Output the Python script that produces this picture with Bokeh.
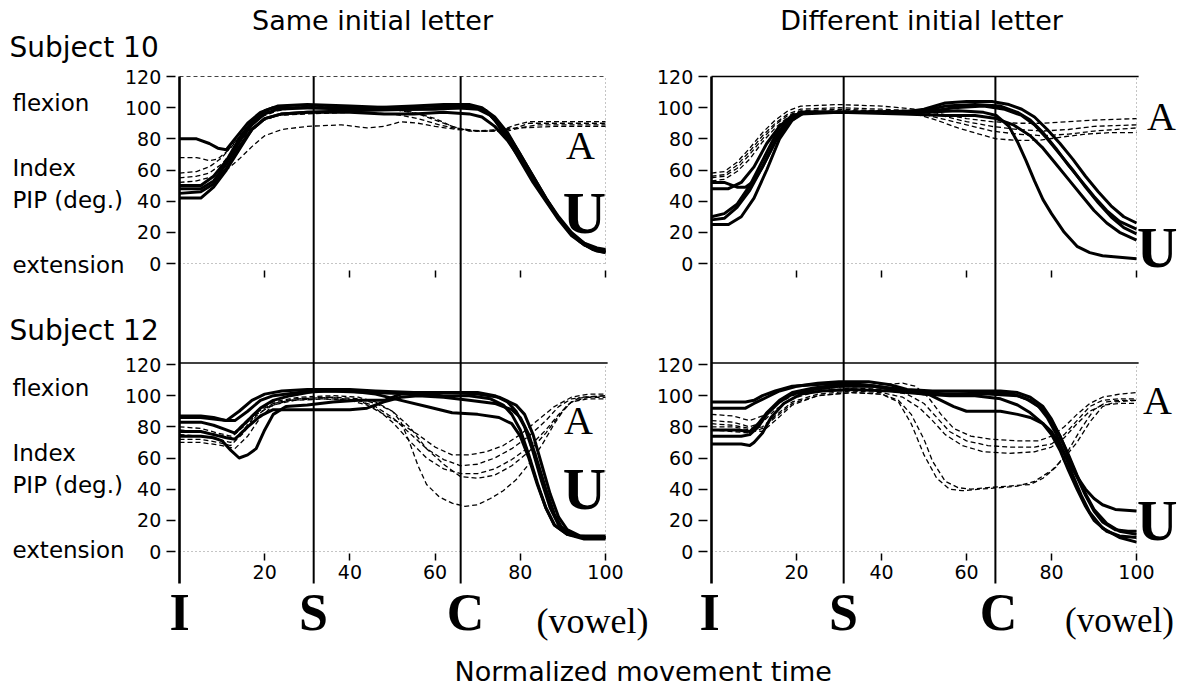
from bokeh.plotting import figure
from bokeh.models import Range1d, LinearAxis, FixedTicker, Label
from bokeh.embed import file_html
from bokeh.resources import INLINE

# ---------------- data ----------------
y_ticks = [0, 20, 40, 60, 80, 100, 120]
x_ticks = [20, 40, 60, 80, 100]
event_names = ["I", "S", "C"]
same_events = [0, 31.5, 66.0]
diff_events = [0, 31.1, 66.8]

# Subject 10, same initial letter
s10_same_U = [
    [(0,80),(4,80),(7,77),(9,74),(11,73),(13,80),(16,90),(19,97),(22,100),(30,100),(40,99),(50,99),(60,99),(66,100),(70,100),(72,98),(74,92),(77,80),(80,66),(83,52),(86,40),(89,28),(92,18),(95,12),(98,9),(100,8)],
    [(0,50),(5,50),(8,56),(11,66),(14,80),(17,91),(20,98),(23,101),(30,102),(40,101),(50,100),(60,101),(68,101),(71,99),(74,93),(77,83),(80,70),(83,56),(86,42),(89,30),(92,20),(95,13),(98,10),(100,9)],
    [(0,45),(5,46),(8,51),(11,61),(14,75),(17,86),(20,93),(24,96),(30,97),(40,97),(48,96),(55,96),(62,97),(68,96),(71,94),(74,88),(77,79),(80,67),(83,54),(86,41),(89,29),(92,19),(95,13),(98,9),(100,8)],
    [(0,42),(5,42),(8,49),(11,60),(14,73),(17,86),(20,93),(24,96),(30,97),(40,98),(55,99),(65,100),(70,99),(73,95),(76,86),(79,74),(82,60),(85,46),(88,33),(91,22),(94,14),(97,9),(100,7)],
    [(0,48),(5,48),(8,53),(11,64),(14,78),(17,89),(20,96),(23,99),(30,100),(45,100),(55,101),(62,102),(68,102),(71,100),(74,94),(77,84),(80,70),(83,56),(86,42),(89,29),(92,19),(95,12),(98,8),(100,7)],
]
s10_same_A = [
    [(0,68),(4,68),(7,66),(9,67),(12,74),(15,85),(18,93),(21,98),(25,100),(32,101),(40,100),(50,99),(55,97),(60,93),(64,88),(68,85),(72,85),(76,86),(79,89),(82,91),(90,91),(100,91)],
    [(0,58),(4,59),(7,62),(10,68),(13,78),(16,88),(19,94),(23,98),(30,101),(40,101),(50,99),(56,96),(61,91),(65,87),(70,85),(75,85),(79,87),(82,90),(90,90),(100,90)],
    [(0,55),(4,56),(7,58),(10,64),(13,74),(16,84),(19,91),(23,95),(30,96),(40,97),(50,96),(56,93),(61,89),(66,86),(72,85),(77,85),(80,87),(84,89),(92,89),(100,89)],
    [(0,52),(4,53),(8,56),(11,60),(14,67),(17,75),(20,82),(24,86),(30,88),(38,89),(44,87),(48,88),(52,91),(56,90),(60,88),(65,86),(70,85),(75,86),(80,87),(88,88),(100,88)],
]

# Subject 10, different initial letter
s10_diff_U = [
    [(0,52),(3,52),(6,49),(8,49),(10,53),(12,62),(14,73),(16,84),(18,92),(21,97),(30,97),(40,97),(50,97),(58,98),(64,97),(67,95),(70,88),(72,78),(74,66),(76,53),(78,41),(80,32),(83,20),(86,11),(89,7),(92,5),(96,4),(100,3)],
    [(0,48),(4,48),(7,52),(10,62),(13,77),(16,88),(19,95),(22,97),(35,97),(45,97),(50,99),(55,103),(60,104),(66,104),(70,102),(73,99),(76,94),(79,86),(82,77),(85,67),(88,56),(91,46),(94,37),(97,30),(100,26)],
    [(0,30),(3,32),(6,38),(9,50),(12,66),(15,82),(18,92),(21,97),(35,97),(50,98),(55,101),(62,102),(68,101),(72,97),(75,92),(78,84),(81,74),(84,63),(87,53),(90,43),(93,34),(96,27),(100,22)],
    [(0,28),(3,29),(6,36),(9,47),(12,62),(15,78),(18,90),(21,96),(30,97),(45,96),(55,95),(62,95),(67,93),(71,89),(75,82),(78,74),(81,64),(84,54),(87,44),(90,34),(93,26),(96,20),(100,15)],
    [(0,25),(4,25),(7,30),(10,42),(13,60),(16,80),(19,92),(22,97),(35,97),(50,97),(57,100),(64,101),(69,99),(73,95),(76,89),(79,80),(82,70),(85,60),(88,49),(91,39),(94,30),(97,23),(100,19)],
]
s10_diff_A = [
    [(0,58),(3,59),(6,65),(9,74),(12,84),(15,92),(18,98),(21,101),(30,102),(40,101),(48,99),(54,96),(60,93),(66,91),(72,90),(78,90),(84,91),(90,92),(100,93)],
    [(0,56),(3,57),(6,63),(9,72),(12,82),(15,90),(18,96),(21,99),(30,100),(40,99),(48,98),(54,95),(60,91),(66,88),(72,86),(78,85),(84,86),(90,88),(100,89)],
    [(0,55),(3,56),(6,61),(9,70),(12,80),(15,89),(18,95),(21,98),(30,99),(40,98),(48,97),(54,93),(60,89),(66,85),(72,83),(78,82),(84,83),(90,85),(100,87)],
    [(0,53),(3,54),(6,59),(9,67),(12,78),(15,87),(18,94),(21,97),(30,98),(40,98),(48,96),(53,92),(58,87),(63,83),(67,80),(72,79),(77,79),(82,81),(88,83),(94,84),(100,84)],
]

# Subject 12, same initial letter
s12_same_U = [
    [(0,87),(5,87),(8,86),(11,84),(14,90),(17,97),(20,101),(24,103),(30,104),(40,104),(46,103),(55,102),(62,102),(70,102),(74,100),(77,96),(79,90),(81,80),(83,64),(85,45),(87,28),(89,17),(92,11),(95,9),(100,9)],
    [(0,86),(5,86),(8,85),(11,84),(13,84),(16,90),(19,97),(22,100),(28,102),(35,103),(45,102),(55,101),(62,100),(68,100),(73,98),(76,94),(78,88),(80,78),(82,62),(84,44),(86,28),(88,17),(91,11),(95,8),(100,8)],
    [(0,83),(5,83),(8,81),(11,78),(13,76),(16,84),(19,92),(22,97),(26,100),(32,103),(40,103),(46,101),(52,97),(58,93),(64,89),(70,88),(75,86),(78,82),(80,74),(82,60),(84,43),(86,28),(88,17),(91,11),(95,9),(100,9)],
    [(0,77),(5,77),(8,75),(11,73),(13,72),(16,80),(19,87),(22,91),(30,91),(40,91),(44,92),(48,96),(52,99),(56,100),(62,99),(68,97),(74,95),(78,91),(80,86),(82,75),(84,58),(86,40),(88,24),(90,14),(93,10),(100,9)],
    [(0,74),(5,74),(8,73),(10,71),(12,65),(14,60),(16,62),(18,66),(20,78),(22,88),(25,93),(30,94),(36,96),(42,97),(48,97),(52,101),(58,102),(64,102),(70,101),(75,99),(79,94),(81,88),(83,75),(85,56),(87,37),(89,22),(91,14),(94,10),(100,10)],
]
s12_same_A = [
    [(0,70),(5,70),(10,68),(13,66),(16,74),(19,86),(22,94),(26,97),(33,98),(40,97),(44,94),(48,88),(52,82),(56,75),(60,67),(64,62),(68,62),(72,64),(76,68),(80,75),(84,84),(88,93),(92,99),(96,101),(100,101)],
    [(0,78),(5,77),(9,75),(12,73),(15,80),(18,89),(22,95),(27,98),(35,99),(42,97),(46,93),(50,86),(54,76),(58,66),(62,59),(66,55),(70,56),(74,60),(78,66),(82,74),(86,84),(89,93),(92,98),(96,99),(100,99)],
    [(0,75),(5,74),(9,72),(12,70),(15,78),(18,88),(22,94),(27,97),(35,98),(42,97),(46,92),(50,83),(54,71),(58,60),(62,53),(66,50),(70,50),(74,53),(78,59),(82,67),(86,78),(89,88),(92,96),(96,98),(100,98)],
    [(0,72),(5,72),(9,70),(12,68),(15,76),(18,87),(22,95),(28,98),(36,99),(42,98),(46,95),(50,90),(52,83),(54,70),(56,55),(58,43),(61,35),(64,31),(67,29),(70,30),(73,34),(76,39),(79,46),(82,56),(85,68),(88,82),(91,94),(94,99),(100,100)],
    [(0,80),(5,79),(9,76),(12,74),(15,82),(18,90),(22,96),(28,99),(36,100),(42,99),(46,96),(50,90),(54,80),(58,66),(62,56),(66,48),(70,47),(74,49),(78,55),(82,64),(86,76),(89,87),(92,96),(96,99),(100,100)],
]

# Subject 12, different initial letter
s12_diff_U = [
    [(0,96),(8,96),(10,97),(12,100),(15,103),(19,106),(24,107),(30,108),(36,107),(42,105),(47,103),(51,101),(54,97),(57,93),(60,90),(64,90),(68,90),(72,88),(75,86),(78,82),(80,77),(82,68),(84,58),(86,48),(88,40),(90,34),(92,30),(95,27),(100,26)],
    [(0,92),(8,92),(10,95),(13,99),(16,103),(20,106),(25,108),(30,109),(37,109),(42,107),(46,104),(52,103),(60,103),(68,103),(72,102),(75,99),(78,93),(80,85),(82,74),(84,61),(86,48),(88,36),(90,26),(92,19),(95,14),(98,13),(100,13)],
    [(0,78),(6,78),(9,77),(11,82),(13,89),(16,97),(19,102),(24,105),(30,107),(38,106),(45,103),(55,101),(65,101),(72,100),(75,97),(78,91),(80,84),(82,74),(84,62),(86,49),(88,37),(90,27),(93,18),(96,13),(100,11)],
    [(0,74),(7,74),(9,75),(11,80),(13,88),(16,96),(19,101),(24,104),(30,106),(38,106),(44,104),(50,101),(56,100),(62,100),(68,98),(72,94),(75,89),(78,82),(80,75),(82,65),(84,52),(86,40),(88,29),(90,20),(93,13),(96,10),(100,9)],
    [(0,69),(7,69),(9,68),(10,70),(12,76),(14,86),(17,95),(21,101),(26,103),(33,104),(42,103),(50,101),(58,101),(66,102),(71,101),(74,98),(77,93),(79,86),(81,76),(83,63),(85,49),(87,36),(89,25),(92,15),(96,9),(100,6)],
]
s12_diff_A = [
    [(0,88),(5,87),(9,84),(12,87),(15,94),(19,100),(25,104),(32,106),(40,107),(45,108),(48,106),(51,99),(54,88),(57,79),(61,74),(66,72),(72,71),(77,71),(80,74),(83,80),(86,88),(89,95),(92,99),(96,101),(100,102)],
    [(0,84),(5,83),(9,80),(12,83),(15,91),(19,98),(25,103),(33,105),(40,104),(46,101),(50,95),(53,86),(56,77),(60,71),(65,68),(70,67),(76,67),(80,69),(83,75),(86,84),(89,93),(92,97),(96,98),(100,98)],
    [(0,82),(5,81),(9,79),(12,80),(15,87),(19,96),(25,101),(33,103),(40,102),(45,99),(49,92),(52,84),(55,75),(59,68),(64,64),(70,63),(76,64),(80,67),(83,73),(86,82),(89,90),(92,94),(96,95),(100,95)],
    [(0,80),(5,80),(9,78),(12,77),(15,84),(19,94),(25,100),(33,102),(40,101),(44,97),(47,88),(50,72),(52,58),(55,45),(58,41),(61,40),(65,41),(70,42),(75,43),(78,47),(81,54),(84,65),(87,79),(90,91),(93,96),(96,97),(100,97)],
    [(0,78),(5,77),(9,76),(12,79),(15,86),(19,95),(25,100),(33,102),(40,101),(44,96),(47,82),(50,62),(53,47),(56,40),(59,39),(63,40),(68,41),(72,42),(76,45),(80,52),(83,60),(86,70),(89,83),(92,93),(95,96),(100,97)],
]

# ---------------- layout (pixels) ----------------
W, H = 1180, 688
LX0, LX100 = 179, 605      # left column: x=0 / x=100
RX0, RX100 = 711, 1136     # right column
TY0, TY120 = 263, 76       # top row: y=0 / y=120
BY0, BY120 = 551, 364      # bottom row
KX = (LX100 - LX0) / 100.0
KY = (TY0 - TY120) / 120.0


def x_range_for(p0, p100):
    k = (p100 - p0) / 100.0
    return Range1d(-p0 / k, (W - p0) / k)


def y_range_for(p0, p120):
    k = (p0 - p120) / 120.0
    return Range1d((p0 - H) / k, p0 / k)


def px_x(px):
    return (px - LX0) / KX


def px_y(py):
    return (TY0 - py) / KY


p = figure(width=W, height=H, x_range=x_range_for(LX0, LX100), y_range=y_range_for(TY0, TY120),
           min_border=0, toolbar_location=None, output_backend="svg",
           x_axis_location=None, y_axis_location=None, outline_line_color=None,
           background_fill_color="white", border_fill_color="white")
p.extra_x_ranges = {"right": x_range_for(RX0, RX100)}
p.extra_y_ranges = {"bottom": y_range_for(BY0, BY120)}
p.grid.visible = False

SANS = "DejaVu Sans"
SERIF = "Liberation Serif"

panels = [
    ("default", "default", s10_same_U, s10_same_A, "top", same_events),
    ("right", "default", s10_diff_U, s10_diff_A, "top", diff_events),
    ("default", "bottom", s12_same_U, s12_same_A, "bottom", same_events),
    ("right", "bottom", s12_diff_U, s12_diff_A, "bottom", diff_events),
]

for xn, yn, U, A, row, ev in panels:
    kw = dict(x_range_name=xn, y_range_name=yn)
    # frame pieces
    p.line([0, 100], [0, 0], line_color="#8a8a8a", line_width=1, line_dash="1 3", **kw)
    p.line([100, 100], [0, 120], line_color="#8a8a8a", line_width=1, line_dash="1 3", **kw)
    if row == "top" and xn == "default":
        p.line([0, 100], [120, 120], line_color="#444444", line_width=1, line_dash="4 3", **kw)
    elif row == "top":
        p.line([0, 100.5], [120, 120], line_color="black", line_width=1.5, **kw)
    else:
        p.line([0, 100.5], [121, 121], line_color="black", line_width=1.5, **kw)
    for c in A:
        xs, ys = zip(*c)
        p.line(list(xs), list(ys), line_color="black", line_width=1.3, line_dash="5 3", **kw)
    for c in U:
        xs, ys = zip(*c)
        p.line(list(xs), list(ys), line_color="black", line_width=3, line_join="round", **kw)

    # axes
    ya = LinearAxis(x_range_name=xn, y_range_name=yn, fixed_location=-1.0,
                    ticker=FixedTicker(ticks=y_ticks))
    ya.axis_line_color = None
    ya.major_tick_out = 9
    ya.major_tick_in = 0
    ya.minor_tick_line_color = None
    ya.major_tick_line_width = 1.5
    ya.major_tick_line_color = "black"
    ya.major_label_text_font = SANS
    ya.major_label_text_font_size = "19px"
    ya.major_label_text_color = "black"
    ya.major_label_standoff = 5
    p.add_layout(ya, "left")

    xa = LinearAxis(x_range_name=xn, y_range_name=yn,
                    fixed_location=(-4.5 if row == "top" else -1.3),
                    ticker=FixedTicker(ticks=x_ticks))
    xa.axis_line_color = None
    xa.major_tick_out = 7
    xa.major_tick_in = 0
    xa.minor_tick_line_color = None
    xa.major_tick_line_width = 1.5
    xa.major_tick_line_color = "black"
    xa.major_label_text_font = SANS
    xa.major_label_text_font_size = "19px"
    xa.major_label_standoff = 4
    if row == "top":
        xa.major_label_text_color = None
    else:
        xa.major_label_text_color = "black"
    p.add_layout(xa, "below")

# event lines (I, S, C) spanning both rows of each column
line_top = 120
line_bottom = px_y(583)
for xn, ev in (("default", same_events), ("right", diff_events)):
    for name, t in zip(event_names, ev):
        p.segment(x0=[t], y0=[line_top], x1=[t], y1=[line_bottom], x_range_name=xn,
                  line_color="black", line_width=(2.6 if name == "I" else 2))


def lab(text, px, py, size, font=SANS, align="left", style="normal"):
    p.add_layout(Label(x=px_x(px), y=px_y(py), text=text, text_font=font,
                       text_font_size=f"{size}px", text_align=align,
                       text_baseline="middle", text_font_style=style,
                       text_color="black"))


lab("Same initial letter", 372, 20, 27, align="center")
lab("Different initial letter", 921, 20, 27, align="center")
lab("Subject 10", 9, 47, 28)
lab("Subject 12", 9, 330, 28)
for off in (0, 285):
    lab("flexion", 12, 102 + off, 23)
    lab("Index", 12, 167 + off, 23)
    lab("PIP (deg.)", 12, 199 + off, 23)
    lab("extension", 12, 264 + off, 23)

# vowel labels
lab("A", 580, 145, 40, font=SERIF, align="center")
lab("U", 584, 212, 60, font=SERIF, align="center", style="bold")
lab("A", 1161, 116, 40, font=SERIF, align="center")
lab("U", 1177, 247, 56, font=SERIF, align="right", style="bold")
lab("A", 578, 420, 40, font=SERIF, align="center")
lab("U", 584, 488, 60, font=SERIF, align="center", style="bold")
lab("A", 1157, 400, 40, font=SERIF, align="center")
lab("U", 1177, 520, 56, font=SERIF, align="right", style="bold")

# event letters
for cx, name in zip((179, 313, 465), event_names):
    lab(name, cx, 612, 52, font=SERIF, align="center", style="bold")
for cx, name in zip((709, 843, 998), event_names):
    lab(name, cx, 612, 52, font=SERIF, align="center", style="bold")
lab("(vowel)", 592, 620, 36, font=SERIF, align="center")
lab("(vowel)", 1119, 620, 35, font=SERIF, align="center")

lab("Normalized movement time", 454, 671, 27)

open("out.html", "w").write(file_html(p, INLINE))
